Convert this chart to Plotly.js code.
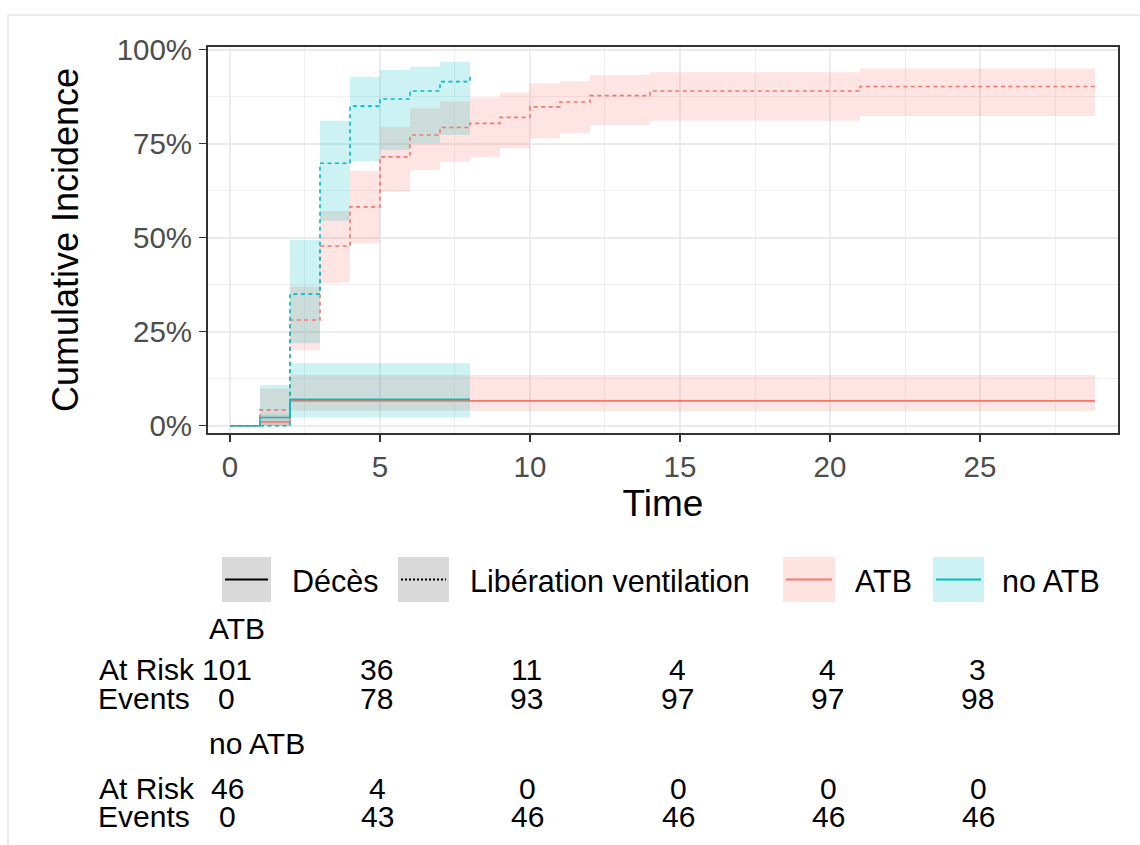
<!DOCTYPE html>
<html>
<head>
<meta charset="utf-8">
<script src="https://cdn.plot.ly/plotly-3.0.1.min.js"></script>
<style>html,body{margin:0;padding:0;background:#fff;}#chart{width:1140px;height:845px;}</style>
</head>
<body>
<div id="chart"></div>
<script>
// ---------------- DATA ----------------
// ATB – Décès
const atbDecesTime  = [0, 1, 2, 28.83];
const atbDecesEst   = [0, 0.0099, 0.066, 0.066];
const atbDecesLow   = [0, 0, 0.040, 0.040];
const atbDecesHigh  = [0, 0.030, 0.135, 0.135];

// ATB – Libération ventilation
const atbLibTime = [0, 1, 2, 3, 4, 5, 6, 7, 8, 9, 10, 11, 12, 14, 21, 28.83];
const atbLibEst  = [0, 0.042, 0.281, 0.478, 0.582, 0.715, 0.773, 0.793, 0.804, 0.820, 0.848, 0.861, 0.878, 0.890, 0.902, 0.902];
const atbLibLow  = [0, 0.000, 0.201, 0.380, 0.485, 0.622, 0.680, 0.702, 0.714, 0.738, 0.764, 0.778, 0.800, 0.811, 0.824, 0.824];
const atbLibHigh = [0, 0.099, 0.370, 0.571, 0.678, 0.795, 0.844, 0.862, 0.873, 0.886, 0.911, 0.916, 0.933, 0.940, 0.950, 0.950];

// no ATB – Décès
const noAtbDecesTime = [0, 1, 2, 8];
const noAtbDecesEst  = [0, 0.0217, 0.070, 0.070];
const noAtbDecesLow  = [0, 0, 0.022, 0.022];
const noAtbDecesHigh = [0, 0.108, 0.166, 0.166];

// no ATB – Libération ventilation
const noAtbLibTime = [0, 1, 2, 3, 4, 5, 6, 7, 8];
const noAtbLibEst  = [0, 0, 0.350, 0.698, 0.850, 0.869, 0.890, 0.915, 0.935];
const noAtbLibLow  = [0, 0, 0.219, 0.545, 0.704, 0.733, 0.751, 0.773, 0.773];
const noAtbLibHigh = [0, 0, 0.494, 0.811, 0.928, 0.946, 0.955, 0.968, 0.968];

// Risk table
const riskTimes     = [0, 5, 10, 15, 20, 25];
const atbAtRisk     = [101, 36, 11, 4, 4, 3];
const atbEvents     = [0, 78, 93, 97, 97, 98];
const noAtbAtRisk   = [46, 4, 0, 0, 0, 0];
const noAtbEvents   = [0, 43, 46, 46, 46, 46];

const xTicks = [0, 5, 10, 15, 20, 25];
const yTicks = [0, 0.25, 0.5, 0.75, 1];
const yTickText = ['0%', '25%', '50%', '75%', '100%'];

const groupNames = ['ATB', 'no ATB'];
const typeNames = ['Décès', 'Libération ventilation'];

// ---------------- STYLE ----------------
const RED = '#F8766D', CYAN = '#00BFC4';
const RED_FILL = 'rgba(248,118,109,0.2)', CYAN_FILL = 'rgba(0,191,196,0.2)';
const FONT = 'Liberation Sans, Arial, sans-serif';
const M = {l: 208, r: 22, t: 47, b: 412};
const W = 1140, H = 845;
const PW = W - M.l - M.r, PH = H - M.t - M.b;
const px = v => (v - M.l) / PW;           // pixel x -> paper
const py = v => (H - M.b - v) / PH;       // pixel y -> paper

function band(t, lo, hi, fill) {
  return [
    {x: t, y: lo, mode: 'lines', line: {width: 0, shape: 'hv'}, hoverinfo: 'skip', showlegend: false},
    {x: t, y: hi, mode: 'lines', line: {width: 0, shape: 'hv'}, fill: 'tonexty', fillcolor: fill, hoverinfo: 'skip', showlegend: false}
  ];
}
function curve(t, y, color, dash) {
  return {x: t, y: y, mode: 'lines', line: {color: color, width: 1.6, shape: 'hv', dash: dash}, showlegend: false};
}

const traces = [
  ...band(atbDecesTime, atbDecesLow, atbDecesHigh, RED_FILL),
  ...band(atbLibTime, atbLibLow, atbLibHigh, RED_FILL),
  ...band(noAtbDecesTime, noAtbDecesLow, noAtbDecesHigh, CYAN_FILL),
  ...band(noAtbLibTime, noAtbLibLow, noAtbLibHigh, CYAN_FILL),
  curve(atbDecesTime, atbDecesEst, RED, 'solid'),
  curve(atbLibTime, atbLibEst, RED, '4px,3.5px'),
  curve(noAtbDecesTime, noAtbDecesEst, CYAN, 'solid'),
  curve(noAtbLibTime, noAtbLibEst, CYAN, '4px,3.5px')
];

// ---------------- LEGEND (manual) ----------------
const shapes = [];
const annotations = [];
const keyTop = 557, keyBot = 602, keyMid = 579.5;
const keys = [
  {x0: 222, x1: 271, fill: '#D9D9D9', line: '#000000', dash: 'solid', lw: 2.2, label: typeNames[0], tx: 290},
  {x0: 398, x1: 449, fill: '#D9D9D9', line: '#000000', dash: '2px,2px', lw: 2, label: typeNames[1], tx: 468},
  {x0: 783, x1: 835, fill: '#FEE3E1', line: RED, dash: 'solid', lw: 1.8, label: groupNames[0], tx: 853},
  {x0: 933, x1: 984, fill: '#CCF2F3', line: CYAN, dash: 'solid', lw: 1.8, label: groupNames[1], tx: 1000}
];
keys.forEach(k => {
  shapes.push({type: 'rect', xref: 'paper', yref: 'paper', x0: px(k.x0), x1: px(k.x1), y0: py(keyBot), y1: py(keyTop),
    fillcolor: k.fill, line: {width: 0}, layer: 'above'});
  shapes.push({type: 'line', xref: 'paper', yref: 'paper', x0: px(k.x0 + 3), x1: px(k.x1 - 3), y0: py(keyMid), y1: py(keyMid),
    line: {color: k.line, width: k.lw, dash: k.dash}, layer: 'above'});
  annotations.push({xref: 'paper', yref: 'paper', x: px(k.tx), y: py(581), xanchor: 'left', yanchor: 'middle',
    text: k.label, showarrow: false, font: {family: FONT, size: 30.5, color: '#000'}});
});

// outer light frame
shapes.push({type: 'line', xref: 'paper', yref: 'paper', x0: px(8), x1: px(1140), y0: py(15), y1: py(15), line: {color: '#E3E3E3', width: 1.5}});
shapes.push({type: 'line', xref: 'paper', yref: 'paper', x0: px(8), x1: px(8), y0: py(15), y1: py(845), line: {color: '#E3E3E3', width: 1.5}});

// ---------------- RISK TABLE ----------------
const RT = 30;
function txt(xref, x, yPix, s, anchor, xshift) {
  annotations.push({xref: xref, yref: 'paper', x: x, y: py(yPix), xanchor: anchor, yanchor: 'middle', xshift: xshift || 0,
    text: s, showarrow: false, font: {family: FONT, size: RT, color: '#000'}});
}
txt('paper', px(207), 628, groupNames[0], 'left');
txt('paper', px(197), 669, 'At Risk', 'right');
txt('paper', px(192), 698, 'Events', 'right');
txt('paper', px(207), 743, groupNames[1], 'left');
txt('paper', px(197), 788, 'At Risk', 'right');
txt('paper', px(192), 816, 'Events', 'right');
riskTimes.forEach((t, i) => {
  txt('x', t, 669, String(atbAtRisk[i]), 'center', -3);
  txt('x', t, 698, String(atbEvents[i]), 'center', -3);
  txt('x', t, 788, String(noAtbAtRisk[i]), 'center', -2);
  txt('x', t, 816, String(noAtbEvents[i]), 'center', -2);
});

const axisCommon = {
  showgrid: true, gridcolor: '#EBEBEB', gridwidth: 1.6, zeroline: false,
  showline: true, mirror: true, linecolor: '#333333', linewidth: 2,
  ticks: 'outside', ticklen: 7, tickwidth: 1.5, tickcolor: '#333333',
  tickfont: {family: FONT, size: 29.5, color: '#4D4D4D'}
};

const layout = {
  width: W, height: H, margin: M,
  paper_bgcolor: '#ffffff', plot_bgcolor: '#ffffff',
  font: {family: FONT},
  showlegend: false,
  xaxis: Object.assign({}, axisCommon, {
    range: [-0.733, 29.6], tickmode: 'array', tickvals: xTicks, ticktext: xTicks.map(String),
    minor: {dtick: 2.5, tick0: 0, showgrid: true, gridcolor: '#EBEBEB', gridwidth: 0.8, ticks: ''},
    ticklabelstandoff: 0,
    title: {text: 'Time', font: {family: FONT, size: 37, color: '#000'}, standoff: 5}
  }),
  yaxis: Object.assign({}, axisCommon, {
    range: [-0.0194, 1.0072], tickmode: 'array', tickvals: yTicks, ticktext: yTickText,
    minor: {dtick: 0.125, tick0: 0, showgrid: true, gridcolor: '#EBEBEB', gridwidth: 0.8, ticks: ''},
    ticklabelstandoff: 1,
    title: {text: 'Cumulative Incidence', font: {family: FONT, size: 36, color: '#000'}, standoff: 27}
  }),
  shapes: shapes,
  annotations: annotations
};

Plotly.newPlot('chart', traces, layout, {staticPlot: true, displayModeBar: false});
</script>
</body>
</html>
